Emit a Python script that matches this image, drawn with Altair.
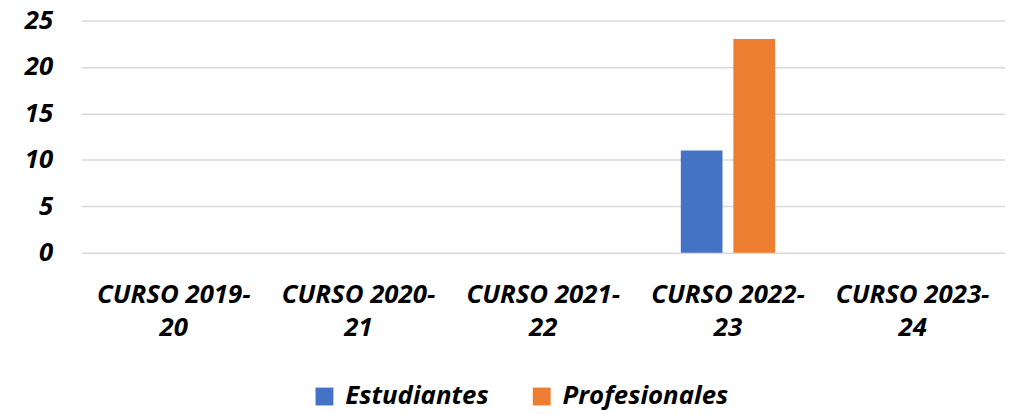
import altair as alt
import pandas as pd

cursos = ["CURSO 2019-20", "CURSO 2020-21", "CURSO 2021-22", "CURSO 2022-23", "CURSO 2023-24"]
estudiantes = [0, 0, 0, 11, 0]
profesionales = [0, 0, 0, 23, 0]
series = ["Estudiantes", "Profesionales"]
colors = ["#4472C4", "#ED7D31"]

rows = []
for c, e, p in zip(cursos, estudiantes, profesionales):
    rows.append({"curso": c, "serie": series[0], "valor": e})
    rows.append({"curso": c, "serie": series[1], "valor": p})
df = pd.DataFrame(rows)

FONT = "Open Sans"

chart = alt.Chart(df).mark_bar().encode(
    x=alt.X("curso:N", sort=cursos, title=None,
            scale=alt.Scale(paddingInner=0.4898, paddingOuter=0.2449),
            axis=alt.Axis(labelAngle=0, domain=False, ticks=False,
                          labelExpr="[slice(datum.label,0,11), slice(datum.label,11)]",
                          labelFont=FONT, labelFontSize=26, labelFontWeight="bold",
                          labelFontStyle="italic", labelColor="#000000",
                          labelPadding=29, labelLineHeight=33)),
    xOffset=alt.XOffset("serie:N", sort=series,
                        scale=alt.Scale(paddingInner=0.2075, paddingOuter=0)),
    y=alt.Y("valor:Q", title=None,
            scale=alt.Scale(domain=[0, 25]),
            axis=alt.Axis(values=[0, 5, 10, 15, 20, 25], domain=False, ticks=False,
                          grid=True, gridColor="#d9d9d9", gridWidth=1.5,
                          labelFont=FONT, labelFontSize=26, labelFontWeight="bold",
                          labelFontStyle="italic", labelColor="#000000",
                          labelPadding=29)),
    color=alt.Color("serie:N", sort=series, title=None,
                    scale=alt.Scale(domain=series, range=colors),
                    legend=alt.Legend(orient="none", direction="horizontal",
                                      legendX=232, legendY=366,
                                      symbolType="square", symbolSize=324,
                                      symbolStrokeWidth=0, padding=0,
                                      labelFont=FONT, labelFontSize=26,
                                      labelFontWeight="bold", labelFontStyle="italic",
                                      labelColor="#000000", labelOffset=8,
                                      columnPadding=40, labelLimit=400)),
).properties(
    width=931, height=234,
    autosize=alt.AutoSizeParams(type="none"),
    padding={"left": 74, "top": 11, "right": 0, "bottom": 162},
).configure_view(stroke=None)

chart.save("out.html", embed_options={"renderer": "svg", "actions": False})
